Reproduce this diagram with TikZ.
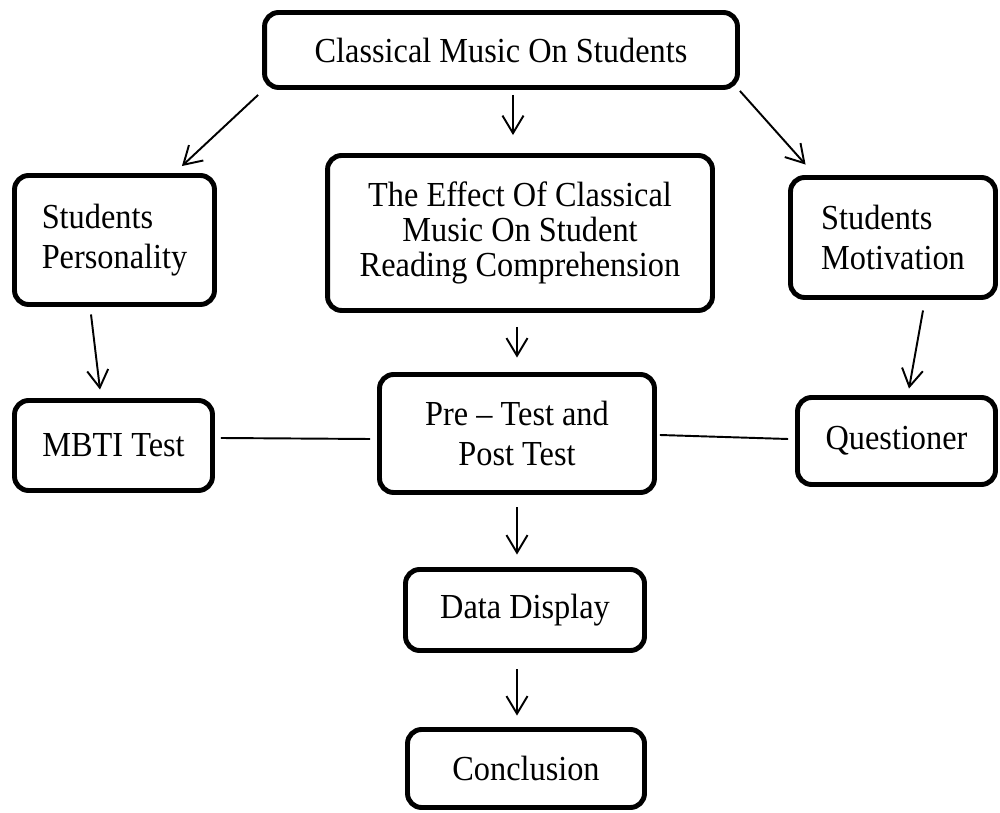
\documentclass[tikz,border=0pt]{standalone}
\usepackage{fontspec}
\setmainfont{Liberation Serif}[FakeStretch=0.92]
\usetikzlibrary{calc, positioning, arrows.meta}
\tikzstyle{boxr}=[shape=rectangle, rounded corners=8pt, draw=black, line width=2.8pt, fill=white, inner sep=2pt, font=\fontsize{20}{22.7}\selectfont]
\tikzstyle{arr}=[line width=1.1pt, -{Straight Barb[length=10pt,width=12pt,line width=1.1pt]}]
\tikzstyle{lnk}=[line width=1.1pt]

\begin{document}
\begin{tikzpicture}[x=0.02cm, y=-0.02cm]
\useasboundingbox (0,0) rectangle (1000,813);
%boxes
\node[boxr, minimum width=9.46cm, minimum height=1.5cm] (top) at (501,50) {Classical Music On Students};
\node[boxr, minimum width=4cm, minimum height=2.58cm, align=left] (pers) at (114.5,240) {Students\\Personality};
\node[boxr, minimum width=7.7cm, minimum height=3.1cm, align=center, font=\fontsize{20}{19.9}\selectfont] (effect) at (520,233) {The Effect Of Classical\\Music On Student\\Reading Comprehension};
\node[boxr, minimum width=4.1cm, minimum height=2.4cm, align=left] (motiv) at (893,237.5) {Students\\Motivation};
\node[boxr, minimum width=3.96cm, minimum height=1.8cm] (mbti) at (113.5,445.5) {MBTI Test};
\node[boxr, minimum width=5.5cm, minimum height=2.36cm, align=center] (pre) at (517,433.5) {Pre -- Test and\\Post Test};
\node[boxr, minimum width=3.96cm, minimum height=1.74cm] (quest) at (896.5,441) {Questioner};
\node[boxr, minimum width=4.78cm, minimum height=1.62cm] (data) at (525,610) {Data Display};
\node[boxr, minimum width=4.74cm, minimum height=1.56cm] (concl) at (526,768.5) {Conclusion};
%arrows
\draw[arr] ($(top.south west)+(-4,5)$) -- ($(pers.north east)+(-35,-7)$);
\draw[arr] ($(top.south)+(12,5)$) -- ($(effect.north)+(-7,-18)$);
\draw[arr] ($(top.south east)+(0,1)$) -- ($(motiv.north west)+(17.5,-10.5)$);
\draw[arr] ($(pers.south)+(-23.5,7.5)$) -- ($(mbti.north)+(-13.5,-8.5)$);
\draw[arr] ($(effect.south)+(-3,14)$) -- ($(pre.north)+(0,-14.5)$);
\draw[arr] ($(motiv.south)+(30,10.5)$) -- ($(quest.north)+(12.5,-6.5)$);
\draw[arr] ($(pre.south)+(0,12.5)$) -- ($(data.north)+(-8,-12.5)$);
\draw[arr] ($(data.south)+(-8,16.5)$) -- ($(concl.north)+(-9,-11.5)$);
%plain links
\draw[lnk] ($(mbti.east)+(6,-7.5)$) -- ($(pre.west)+(-7,5.5)$);
\draw[lnk] ($(pre.east)+(3,1.5)$) -- ($(quest.west)+(-7,-2)$);
\end{tikzpicture}
\end{document}
